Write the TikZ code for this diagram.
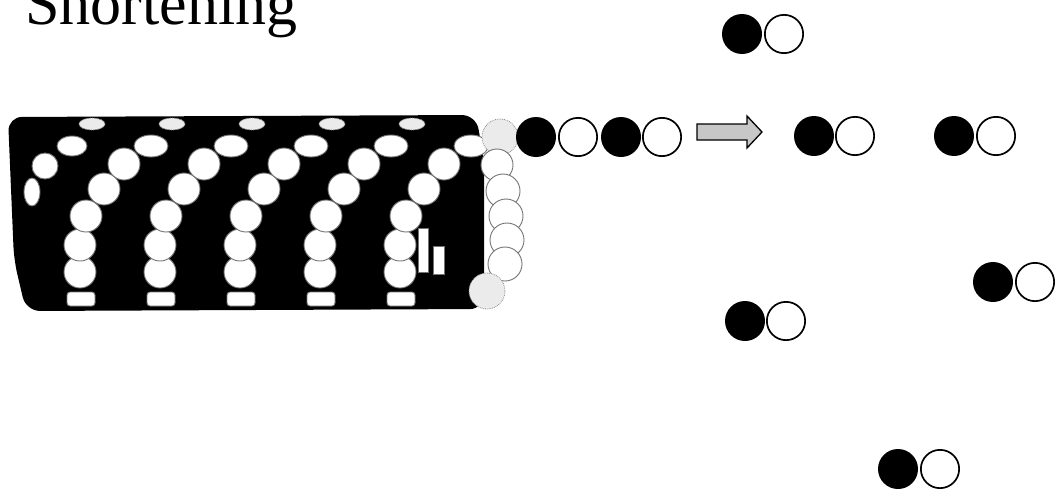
\documentclass[tikz,border=0pt]{standalone}
\usepackage{fontspec}
\setmainfont{Liberation Serif}
\begin{document}
\begin{tikzpicture}[x=1pt,y=-1pt,
  blk/.style={circle, fill=black, minimum size=40pt, inner sep=0pt},
  wht/.style={circle, draw=black, line width=1.7pt, fill=white, minimum size=38.3pt, inner sep=0pt},
  bead/.style={fill=white, draw=black!55, line width=0.9pt},
  backbead/.style={fill=black!8, draw=black!45, line width=0.8pt, densely dotted},
  pointer/.style={draw=black, line width=1.3pt, fill=black!22, line join=miter}]
\useasboundingbox (0,0) rectangle (1057,490);

% title
\node[anchor=base west, inner sep=0pt, font=\fontsize{62}{62}\selectfont] (title) at (25,24) {Shortening};

% ---- coiled fibre: dark body ----
\fill[black, rounded corners=14pt] (8,117) -- (476,115) -- (484,160) -- (484,309)
  -- (26,311) -- (14,260) -- cycle;

% top row of small beads on the back side
\foreach \k in {0,...,4}
  \filldraw[backbead] (92+80*\k,124) ellipse[x radius=13pt, y radius=6pt];

% bottom linkers between the dark lobes
\foreach \k in {0,...,4}
  \filldraw[bead, rounded corners=3pt] (67+80*\k,292) rectangle (95+80*\k,306);

% partial chain at the left edge
\filldraw[bead] (32,192) ellipse[x radius=8pt, y radius=14pt];
\filldraw[bead] (45,166) circle[radius=13pt];
\filldraw[bead] (72,146) ellipse[x radius=15pt, y radius=10pt];

% bead chains wound round the fibre
\foreach \k in {0,...,4}{
  \begin{scope}[xshift=80*\k]
    \filldraw[bead] (80,272) circle[radius=16pt];
    \filldraw[bead] (80,245) circle[radius=16pt];
    \filldraw[bead] (86,216) circle[radius=16pt];
    \filldraw[bead] (104,189) circle[radius=16pt];
    \filldraw[bead] (124,164) circle[radius=16pt];
    \filldraw[bead] (151,146) ellipse[x radius=17pt, y radius=11pt];
  \end{scope}
}

% strand running round the back of the last turn
\filldraw[bead] (418,228) rectangle (428,272);
\filldraw[bead] (433,246) rectangle (444,274);

% end of the fibre
\filldraw[backbead] (500,137) circle[radius=18pt];
\filldraw[bead] (497,165) circle[radius=16pt];
\filldraw[bead] (503,191) circle[radius=17pt];
\filldraw[bead] (506,216) circle[radius=17pt];
\filldraw[bead] (507,240) circle[radius=17pt];
\filldraw[bead] (505,264) circle[radius=17pt];
\filldraw[backbead] (487,291) circle[radius=18pt];

% ---- units leaving the fibre end ----
\node[blk] (b1) at (536,137) {};
\node[wht] (w1) at (578,137) {};
\node[blk] (b2) at (621,137) {};
\node[wht] (w2) at (662,137) {};

% shortening arrow
\coordinate (arrtail) at (697,132);
\draw[pointer] (arrtail) ++(0,-8) -- ++(50,0) -- ++(0,-8) -- ++(15,16) -- ++(-15,16)
  -- ++(0,-8) -- ++(-50,0) -- cycle;

% released units
\node[blk] (b3) at (742,34) {};
\node[wht] (w3) at (784,34) {};
\node[blk] (b4) at (814,136) {};
\node[wht] (w4) at (855,136) {};
\node[blk] (b5) at (954,136) {};
\node[wht] (w5) at (996,136) {};
\node[blk] (b6) at (993,282) {};
\node[wht] (w6) at (1035,282) {};
\node[blk] (b7) at (745,321) {};
\node[wht] (w7) at (786,321) {};
\node[blk] (b8) at (898,469) {};
\node[wht] (w8) at (940,469) {};
\end{tikzpicture}
\end{document}
